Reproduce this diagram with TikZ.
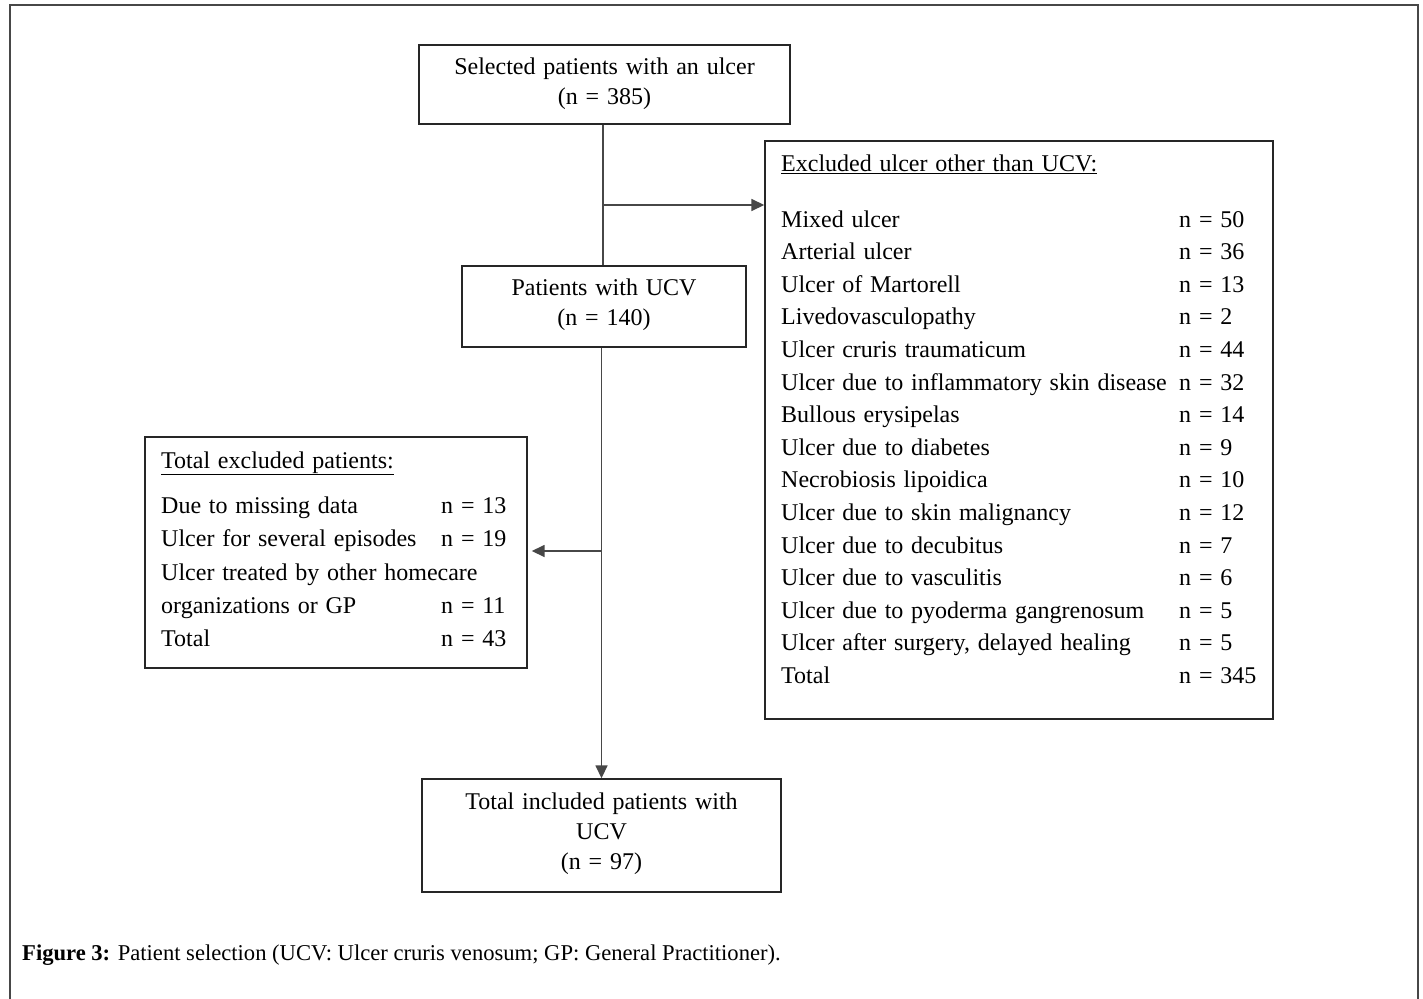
\documentclass[tikz,border=0pt]{standalone}
\usepackage{fontspec}
\setmainfont{Liberation Serif}
\newfontfamily\boxfont[WordSpace=1.3]{Liberation Serif}
\usetikzlibrary{arrows.meta}
\begin{document}
\begin{tikzpicture}[x=1pt,y=-1pt,
  box/.style={draw=black!85,line width=1.4pt,inner sep=0pt},
  conn/.style={draw=black!72,line width=1.6pt},
  arr/.style={conn,-{Triangle[length=13pt,width=12pt]}},
  txt/.style={inner sep=0pt,anchor=base west,font=\boxfont\fontsize{24}{30}\selectfont},
  ctxt/.style={inner sep=0pt,align=center,font=\boxfont\fontsize{24}{30}\selectfont}
]
\useasboundingbox (0,0) rectangle (1423,998);
\draw[draw=black!72,line width=2pt] (10,1000) -- (10,5) -- (1418,5) -- (1418,1000);

% boxes
\node[box,minimum width=371pt,minimum height=79pt] (top) at (604.5,84.5) {};
\node[ctxt] (toptxt) at (604.5,84) {Selected patients with an ulcer\\(n = 385)};
\node[box,minimum width=284pt,minimum height=81pt] (ucv) at (604,306.5) {};
\node[ctxt] (ucvtxt) at (604,305) {Patients with UCV\\(n = 140)};
\node[box,minimum width=359pt,minimum height=113pt] (fin) at (601.5,835.5) {};
\node[ctxt] (fintxt) at (601.5,834) {Total included patients with\\UCV\\(n = 97)};
\node[box,minimum width=508pt,minimum height=578pt] (excl) at (1019,430) {};
\node[box,minimum width=382pt,minimum height=231pt] (left) at (336,552.5) {};

% excluded list
\node[txt] (eh) at (781,171) {\underline{Excluded ulcer other than UCV:}};
\foreach \i/\t/\n in {0/Mixed ulcer/50, 1/Arterial ulcer/36, 2/Ulcer of Martorell/13,
  3/Livedovasculopathy/2, 4/Ulcer cruris traumaticum/44,
  5/Ulcer due to inflammatory skin disease/32, 6/Bullous erysipelas/14,
  7/Ulcer due to diabetes/9, 8/Necrobiosis lipoidica/10,
  9/Ulcer due to skin malignancy/12, 10/Ulcer due to decubitus/7,
  11/Ulcer due to vasculitis/6, 12/Ulcer due to pyoderma gangrenosum/5,
  13/{Ulcer after surgery, delayed healing}/5, 14/Total/345}{
  \node[txt] (el\i) at (781,227+32.6*\i) {\t};
  \node[txt] (en\i) at (1179,227+32.6*\i) {n = \n};
}

% left list
\node[txt] (lh) at (161,468) {\underline{Total excluded patients:}};
\node[txt] (l1) at (161,513) {Due to missing data};
\node[txt] (n1) at (441,513) {n = 13};
\node[txt] (l2) at (161,546.5) {Ulcer for several episodes};
\node[txt] (n2) at (441,546.5) {n = 19};
\node[txt] (l3) at (161,580) {Ulcer treated by other homecare};
\node[txt] (l4) at (161,613) {organizations or GP};
\node[txt] (n4) at (441,613) {n = 11};
\node[txt] (l5) at (161,646) {Total};
\node[txt] (n5) at (441,646) {n = 43};

% connectors
\coordinate (b1) at (603,205);
\coordinate (b2) at (601.5,551);
\draw[conn] (top.south -| b1) -- (ucv.north -| b1);
\draw[arr] (b1) -- (excl.west |- b1);
\draw[arr] (ucv.south -| b2) -- (fin.north -| b2);
\draw[arr] (b2) -- ([xshift=4pt]left.east |- b2);

% caption
\node[inner sep=0pt,anchor=base west,font=\fontsize{22.6}{27}\selectfont] (cap) at (22,960)
  {\textbf{Figure 3:} Patient selection (UCV: Ulcer cruris venosum; GP: General Practitioner).};
\end{tikzpicture}
\end{document}
